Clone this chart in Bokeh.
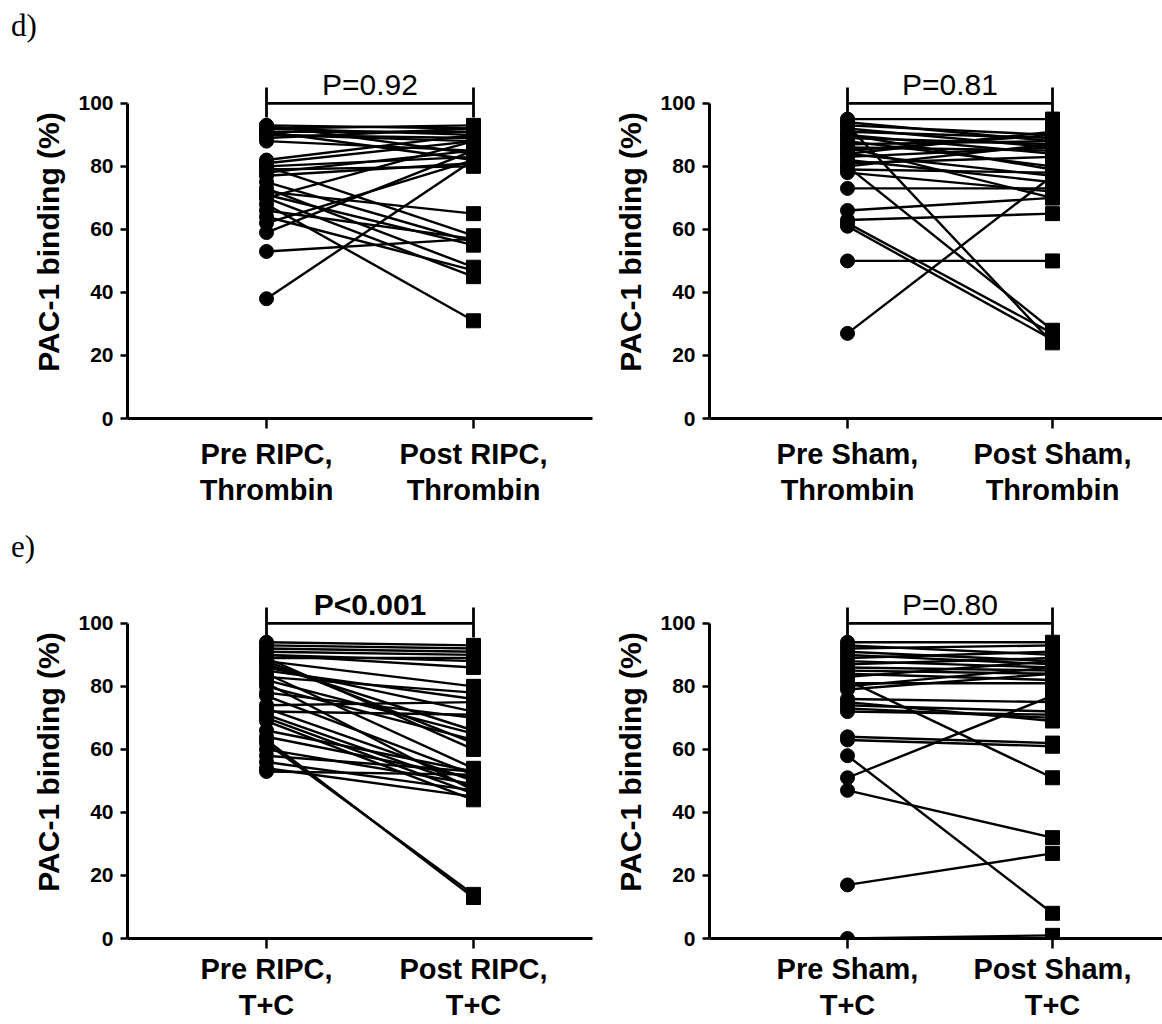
from bokeh.plotting import figure
from bokeh.models import Range1d, FixedTicker, Div
from bokeh.layouts import column, row
from bokeh.core.properties import value
from bokeh.embed import file_html
from bokeh.resources import INLINE

# ---------------- data ----------------
# d) left : Pre RIPC -> Post RIPC, Thrombin
d_ripc_pre = [93, 92, 92, 91, 90, 89, 88, 93, 91, 90, 82, 81, 80, 79, 78, 77, 80, 75, 73, 72,
              71, 70, 70, 68, 66, 64, 62, 59, 53, 38]
d_ripc_post = [92, 93, 90, 91, 88, 92, 85, 84, 82, 89, 90, 88, 83, 80, 85, 81, 58, 56, 48, 65,
               55, 45, 88, 31, 57, 47, 82, 85, 57, 82]
# d) right : Pre Sham -> Post Sham, Thrombin
d_sham_pre = [95, 94, 93, 93, 92, 91, 90, 89, 88, 87, 86, 85, 84, 83, 82, 81, 80, 80, 79, 78,
              73, 66, 63, 62, 61, 50, 27, 86, 84, 90]
d_sham_post = [95, 88, 24, 90, 86, 89, 84, 87, 80, 88, 85, 90, 77, 86, 75, 83, 28, 87, 78, 72,
               73, 70, 65, 27, 25, 50, 77, 70, 91, 79]
# e) left : Pre RIPC -> Post RIPC, T+C
e_ripc_pre = [94, 93, 92, 91, 90, 90, 89, 89, 88, 88, 87, 86, 85, 84, 83, 82, 81, 80, 78, 77,
              74, 73, 72, 71, 70, 69, 66, 64, 63, 62, 60, 58, 56, 54, 53]
e_ripc_post = [93, 92, 91, 90, 88, 86, 89, 60, 80, 62, 66, 72, 76, 54, 78, 65, 47, 63, 70, 52,
               75, 50, 71, 48, 46, 44, 53, 51, 13, 14, 49, 53, 47, 45, 52]
# e) right : Pre Sham -> Post Sham, T+C
e_sham_pre = [94, 93, 92, 91, 90, 89, 88, 87, 86, 85, 84, 83, 82, 81, 80, 79, 76, 75, 74, 73,
              72, 64, 63, 58, 51, 47, 17, 0]
e_sham_post = [94, 90, 93, 88, 87, 91, 86, 89, 85, 84, 82, 88, 51, 81, 86, 84, 75, 69, 72, 70,
               71, 62, 61, 8, 77, 32, 27, 1]

tick_values = [0, 20, 40, 60, 80, 100]
x_pre, x_post = 1, 2
bracket_y = 100

FONT = "Liberation Sans"


def panel(pre, post, lab_pre, lab_post, ptext, pbold, width, height,
          bl, br, bt, bb, px_per_unit, pre_offset, axis_end_px, y_end, standoff):
    frame_w = width - bl - br
    x0 = x_pre - pre_offset / px_per_unit
    x1 = x0 + frame_w / px_per_unit
    p = figure(width=width, height=height, output_backend="svg", toolbar_location=None,
               x_range=Range1d(x0, x1), y_range=Range1d(0, y_end),
               min_border_left=bl, min_border_right=br, min_border_top=bt,
               min_border_bottom=bb)
    p.outline_line_color = None
    p.grid.visible = False
    n = len(pre)
    p.segment(x0=[x_pre] * n, y0=pre, x1=[x_post] * n, y1=post,
              line_color="black", line_width=2.4)
    p.scatter(x=[x_pre] * n, y=pre, marker="circle", size=14, color="black")
    p.scatter(x=[x_post] * n, y=post, marker="square", size=14, color="black")
    # significance bracket
    p.segment(x0=[x_pre, x_pre, x_post], y0=[bracket_y, bracket_y - 4.5, bracket_y - 4.5],
              x1=[x_post, x_pre, x_post], y1=[bracket_y, bracket_y + 5, bracket_y + 5],
              line_color="black", line_width=2.8)
    p.text(x=[(x_pre + x_post) / 2], y=[bracket_y + 0.6], text=[ptext],
           text_align="center", text_baseline="bottom",
           text_font=value(FONT), text_font_size="30px",
           text_font_style="bold" if pbold else "normal", text_color="black")

    ya = p.yaxis[0]
    ya.bounds = (0, 100)
    ya.ticker = FixedTicker(ticks=tick_values)
    ya.minor_tick_line_color = None
    ya.major_tick_out = 7
    ya.major_tick_in = 0
    ya.major_tick_line_width = 2.5
    ya.axis_line_width = 3
    ya.major_label_text_font = FONT
    ya.major_label_text_font_style = "bold"
    ya.major_label_text_font_size = "21px"
    ya.major_label_text_color = "black"
    ya.major_label_standoff = 7
    ya.axis_label = "PAC-1 binding (%)"
    ya.axis_label_text_font = FONT
    ya.axis_label_text_font_style = "bold"
    ya.axis_label_text_font_size = "30px"
    ya.axis_label_text_color = "black"
    ya.axis_label_standoff = 10

    xa = p.xaxis[0]
    xa.bounds = (x0, x0 + (axis_end_px) / px_per_unit)
    xa.ticker = FixedTicker(ticks=[x_pre, x_post])
    xa.major_label_overrides = {x_pre: lab_pre, x_post: lab_post}
    xa.minor_tick_line_color = None
    xa.major_tick_out = 10
    xa.major_tick_in = 0
    xa.major_tick_line_width = 2.5
    xa.axis_line_width = 3
    xa.major_label_text_font = FONT
    xa.major_label_text_font_style = "bold"
    xa.major_label_text_font_size = "29px"
    xa.major_label_text_color = "black"
    xa.major_label_text_line_height = 1.15
    xa.major_label_standoff = standoff
    return p


p1 = panel(d_ripc_pre, d_ripc_post, "Pre RIPC,\nThrombin", "Post RIPC,\nThrombin",
           "P=0.92", False, 600, 474, 127, 8, 12, 106, 207, 139, 465, 112, 9)
p2 = panel(d_sham_pre, d_sham_post, "Pre Sham,\nThrombin", "Post Sham,\nThrombin",
           "P=0.81", False, 562, 474, 109, 0, 15, 101, 205, 138, 453, 112, 9)
p3 = panel(e_ripc_pre, e_ripc_post, "Pre RIPC,\nT+C", "Post RIPC,\nT+C",
           "P<0.001", True, 600, 450, 127, 8, 6, 83, 207, 139, 465, 112, 4)
p4 = panel(e_sham_pre, e_sham_post, "Pre Sham,\nT+C", "Post Sham,\nT+C",
           "P=0.80", False, 562, 450, 109, 0, 11, 81, 205, 138, 453, 112, 4)


def tag(t, pad_top):
    return Div(text=('<div style="font-family:\'Liberation Serif\';font-size:31px;'
                     'line-height:1;padding:%dpx 0 0 11px;color:black">%s</div>') % (pad_top, t),
               width=1162, height=50, margin=(0, 0, 0, 0))


layout = column(tag("d)", 10), row(p1, p2), tag("e)", 7), row(p3, p4))
open("out.html", "w").write(file_html(layout, INLINE))
